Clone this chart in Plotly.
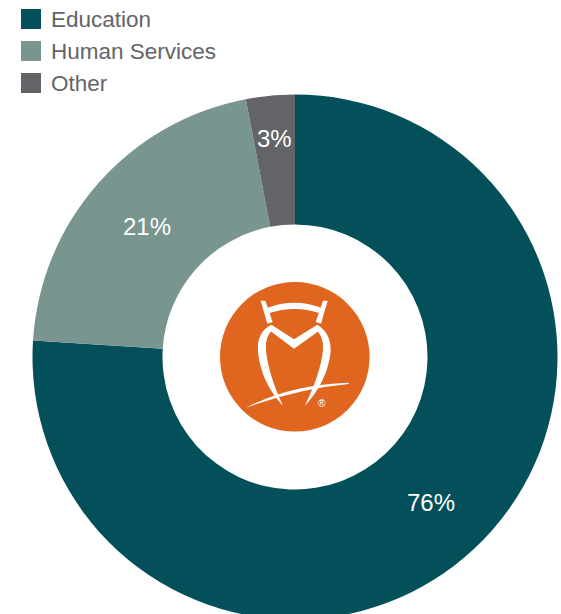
import math
import plotly.graph_objects as go

categories = ["Education", "Human Services", "Other"]
shares = [76, 21, 3]
slice_colors = ["#03505A", "#78958F", "#636467"]
label_radii = [199, 197, 219]

WIDTH, HEIGHT = 561, 625
CX, CY, R_OUT, R_IN = 295, 357, 262.5, 132.5
TEXT_GREY = "#636467"
FONT = "Liberation Sans"


def px(x):
    return x / WIDTH


def py(y):
    return 1 - y / HEIGHT


def path(commands):
    """Build an SVG path in paper units from commands written in emblem units."""
    out = []
    for cmd, *pts in commands:
        coords = []
        for x, y in pts:
            coords.append(f"{px(210 + x / 3):.5f},{py(260 + y / 3):.5f}")
        out.append(cmd + " ".join(coords))
    return " ".join(out) + " Z"


# Emblem: owl outline strokes on the orange disc
emblem_parts = [
    [("M", (152, 122)), ("L", (166, 122)), ("L", (188, 186)), ("L", (172, 191))],
    [("M", (339, 122)), ("L", (353, 122)), ("L", (333, 191)), ("L", (317, 186))],
    [("M", (170, 144)), ("Q", (254, 112), (335, 144)), ("L", (330, 160)),
     ("Q", (254, 134), (176, 160))],
    [("M", (184, 194)), ("L", (252, 238)), ("L", (322, 194)), ("L", (334, 208)),
     ("L", (252, 266)), ("L", (174, 208))],
    [("M", (184, 194)), ("Q", (140, 215), (144, 275)), ("Q", (152, 365), (219, 438)),
     ("Q", (174, 340), (168, 270)), ("Q", (164, 225), (194, 204))],
    [("M", (322, 194)), ("Q", (364, 220), (362, 275)), ("Q", (352, 365), (284, 438)),
     ("Q", (332, 340), (339, 270)), ("Q", (342, 225), (312, 204))],
    [("M", (108, 443)), ("Q", (240, 374), (416, 368)), ("L", (416, 372)),
     ("Q", (265, 386), (108, 443))],
]

shapes = [
    dict(type="circle", xref="paper", yref="paper", layer="above",
         x0=px(220), x1=px(369.6), y0=py(431.6), y1=py(282),
         fillcolor="#E0651F", line_width=0)
]
for part in emblem_parts:
    shapes.append(dict(type="path", xref="paper", yref="paper", layer="above",
                       path=path(part), fillcolor="white", line_width=0))

annotations = [
    dict(x=px(321.5), y=py(403.5), xref="paper", yref="paper", text="®", showarrow=False,
         xanchor="center", yanchor="middle",
         font=dict(family=FONT, size=10, color="white"))
]

# Legend swatches and labels
legend_rows = [19, 51, 83]
for name, color, row in zip(categories, slice_colors, legend_rows):
    shapes.append(dict(type="rect", xref="paper", yref="paper", x0=px(21), x1=px(41),
                       y0=py(row + 10), y1=py(row - 10), fillcolor=color, line_width=0))
    annotations.append(dict(x=px(48.5), y=py(row + 0.5), xref="paper", yref="paper", text=name,
                            showarrow=False, xanchor="left", yanchor="middle",
                            font=dict(family=FONT, size=22.5, color=TEXT_GREY)))

# Percentage labels sit at each slice's middle angle
total = sum(shares)
running = 0
for value, radius in zip(shares, label_radii):
    angle = 2 * math.pi * (running + value / 2) / total
    running += value
    annotations.append(dict(x=px(CX + radius * math.sin(angle)),
                            y=py(CY - radius * math.cos(angle)),
                            xref="paper", yref="paper", text=f"{value}%", showarrow=False,
                            xanchor="center", yanchor="middle",
                            font=dict(family=FONT, size=24, color="white")))

fig = go.Figure(go.Pie(
    labels=categories,
    values=shares,
    sort=False,
    direction="clockwise",
    rotation=0,
    hole=R_IN / R_OUT,
    marker=dict(colors=slice_colors, line=dict(width=0)),
    textinfo="none",
    domain=dict(x=[px(CX - R_OUT), px(CX + R_OUT)], y=[py(CY + R_OUT), py(CY - R_OUT)]),
))
fig.update_layout(
    width=WIDTH, height=HEIGHT,
    margin=dict(l=0, r=0, t=0, b=0),
    showlegend=False,
    paper_bgcolor="white",
    shapes=shapes,
    annotations=annotations,
)
fig.write_html("out.html", post_script="document.documentElement.style.overflow='hidden';document.body.style.overflow='hidden';")
